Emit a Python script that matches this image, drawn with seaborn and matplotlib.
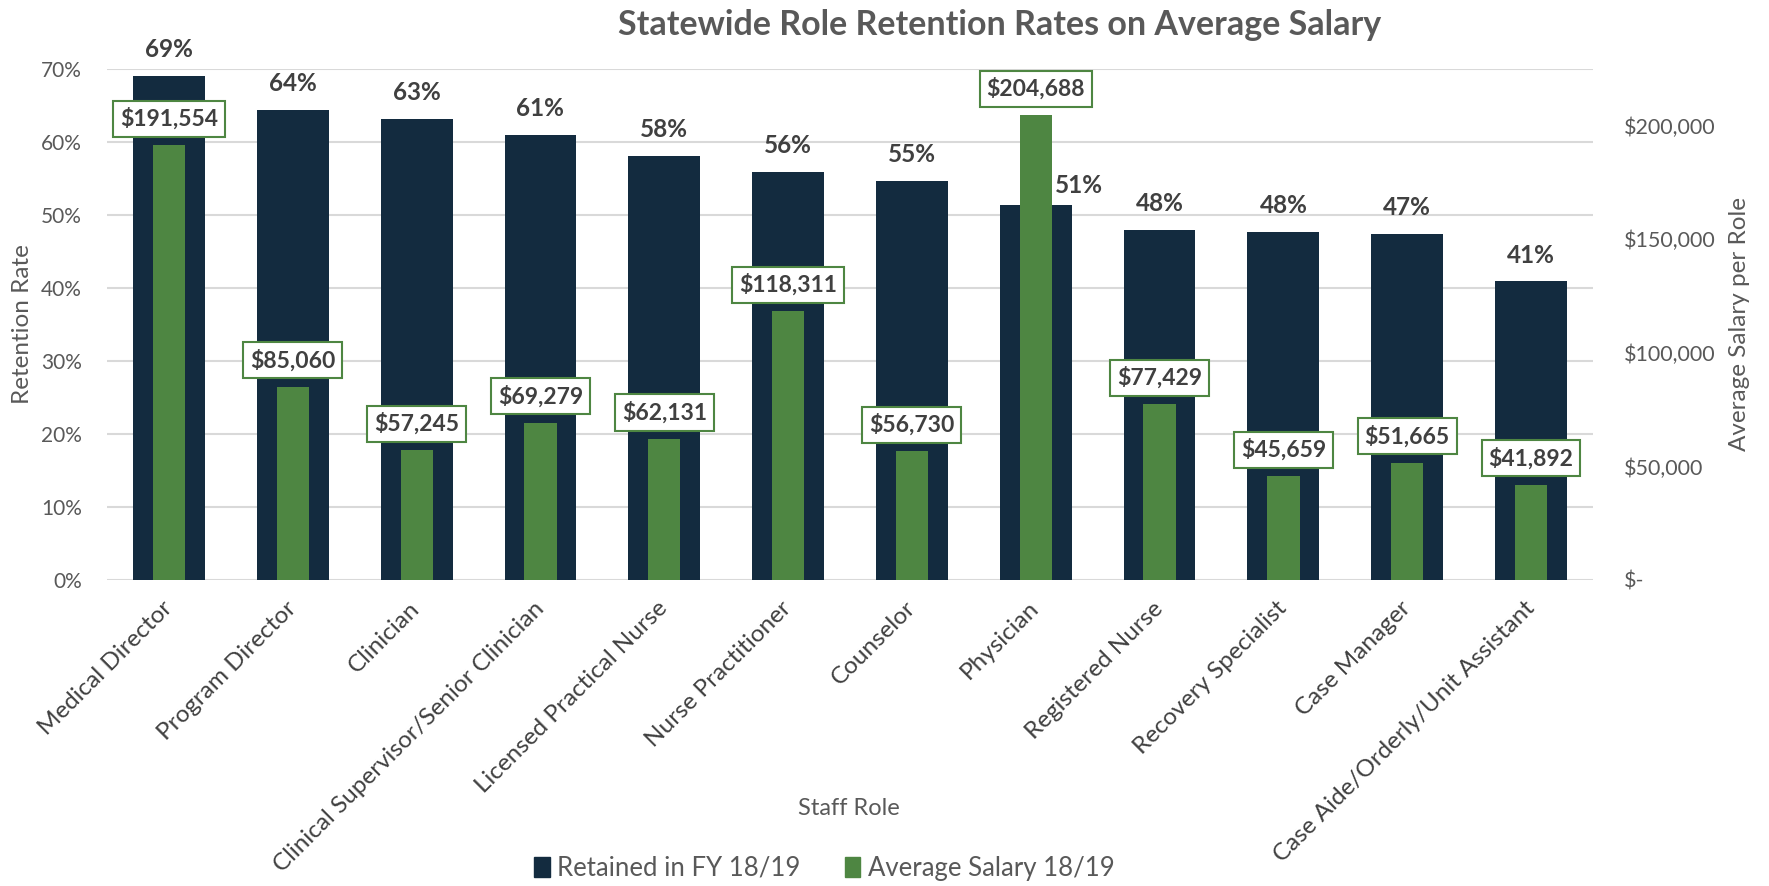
import matplotlib.pyplot as plt
import matplotlib.ticker as mtick
from matplotlib.patches import Patch
import seaborn as sns

roles = ["Medical Director", "Program Director", "Clinician",
         "Clinical Supervisor/Senior Clinician", "Licensed Practical Nurse",
         "Nurse Practitioner", "Counselor", "Physician", "Registered Nurse",
         "Recovery Specialist", "Case Manager", "Case Aide/Orderly/Unit Assistant"]
retention = [0.691, 0.644, 0.632, 0.610, 0.581, 0.559, 0.547, 0.514, 0.479, 0.477, 0.474, 0.409]
salary = [191554, 85060, 57245, 69279, 62131, 118311, 56730, 204688, 77429, 45659, 51665, 41892]

navy = "#132B3F"
green = "#4E8642"
gray = "#595959"
dark = "#404040"

sns.set_style("white")
plt.rcParams["font.family"] = ["Lato", "DejaVu Sans"]

fig = plt.figure(figsize=(17.69, 8.86), dpi=100)
ax = fig.add_axes([0.0605, 0.3454, 0.84, 0.5767])

sns.barplot(x=roles, y=retention, color=navy, width=0.58, saturation=1, linewidth=0, ax=ax)
ax.set_ylim(0, 0.70)
ax.set_yticks([i / 10 for i in range(8)])
ax.yaxis.set_major_formatter(mtick.PercentFormatter(1.0, decimals=0))
ax.grid(axis="y", color="#D9D9D9", linewidth=1.5)
ax.set_axisbelow(True)
for s in ax.spines.values():
    s.set_visible(False)
ax.tick_params(axis="y", labelsize=15, labelcolor=gray, length=0, pad=18)
ax.tick_params(axis="x", length=0, pad=18)
ax.set_xticks(range(len(roles)))
ax.set_xticklabels(roles, rotation=45, ha="right", va="center", rotation_mode="anchor",
                   fontsize=17.5, color=dark)
ax.set_ylabel("Retention Rate", fontsize=17.5, color=gray, labelpad=6)
ax.set_xlabel("")

# percent labels above the dark bars
for i, v in enumerate(retention):
    dx, dy = 0, 19
    if roles[i] == "Physician":  # moved aside so the salary bar stays clear
        dx, dy = 31, 14
    ax.annotate(f"{round(v * 100)}%", (i, v), xytext=(dx, dy), textcoords="offset points",
                ha="center", va="center", fontsize=17.5, fontweight="bold", color=dark)

ax2 = ax.twinx()
sns.barplot(x=roles, y=salary, color=green, width=0.26, saturation=1, linewidth=0, ax=ax2)
ax2.set_ylim(0, 225000)
ax2.set_yticks(range(0, 200001, 50000))
ax2.yaxis.set_major_formatter(
    mtick.FuncFormatter(lambda v, p: "$-" if v == 0 else f"${v:,.0f}"))
for s in ax2.spines.values():
    s.set_visible(False)
ax2.tick_params(axis="y", labelsize=15.5, labelcolor=gray, length=0, pad=22)
ax2.set_ylabel("Average Salary per Role", fontsize=17.5, color=gray, labelpad=10)
ax2.set_xlabel("")

for i, v in enumerate(salary):
    ax2.annotate(f"${v:,}", (i, v), xytext=(0, 19), textcoords="offset points",
                 ha="center", va="center", fontsize=16.5, fontweight="bold", color=dark,
                 bbox=dict(boxstyle="square,pad=0.3", fc="white", ec=green, lw=1.5))

fig.suptitle("Statewide Role Retention Rates on Average Salary", x=0.565, y=0.99,
             va="top", fontsize=24.5, fontweight="bold", color=gray)

fig.text(0.48, 0.088, "Staff Role", ha="center", va="center", fontsize=17, color=gray)

handles = [Patch(color=navy, label="Retained in FY 18/19"),
           Patch(color=green, label="Average Salary 18/19")]
fig.legend(handles=handles, loc="center", bbox_to_anchor=(0.466, 0.02), ncol=2,
           frameon=False, fontsize=18.5, handlelength=0.6, handleheight=0.8,
           handletextpad=0.3, columnspacing=1.7, labelcolor=gray)

fig.savefig("out.png", dpi=100)
